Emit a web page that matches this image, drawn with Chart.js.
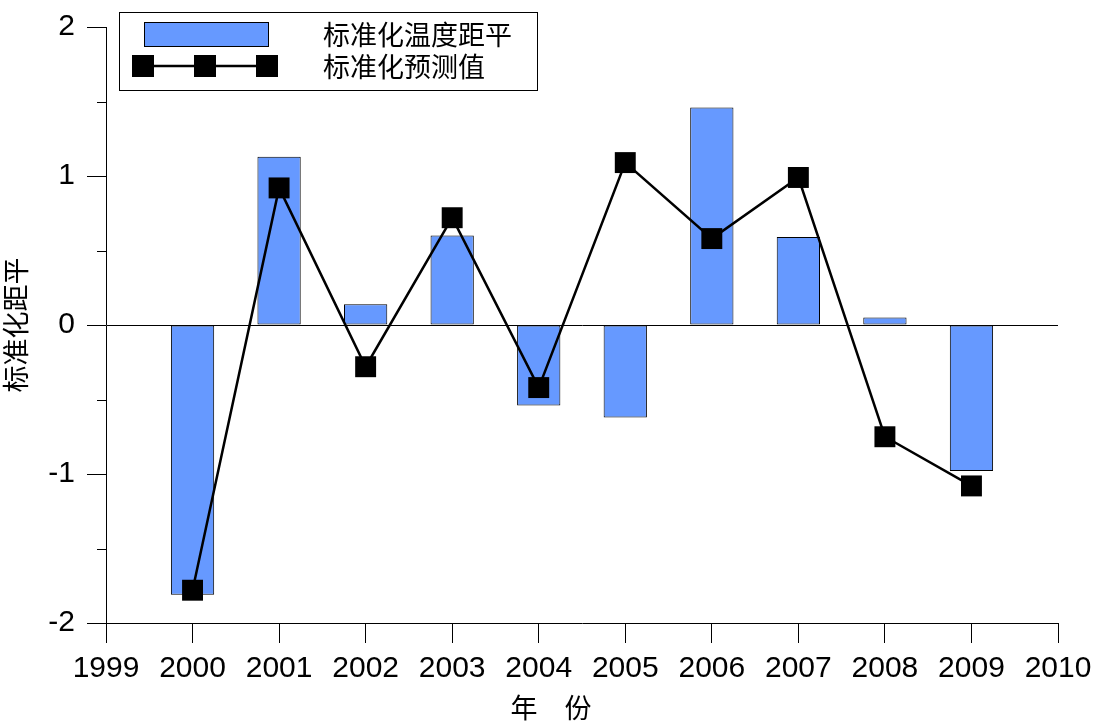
<!DOCTYPE html>
<html>
<head>
<meta charset="utf-8">
<script src="https://cdn.jsdelivr.net/npm/chart.js@4.4.0/dist/chart.umd.min.js"></script>
<style>
  html, body { margin: 0; padding: 0; background: #fff; }
  #wrap { width: 1096px; height: 723px; }
</style>
</head>
<body>
<div id="wrap"><canvas id="chart" width="1096" height="723"></canvas></div>
<script>
const years = [2000, 2001, 2002, 2003, 2004, 2005, 2006, 2007, 2008, 2009];
const anomaly = [-1.81, 1.13, 0.14, 0.60, -0.54, -0.62, 1.46, 0.59, 0.05, -0.98];
const predicted = [-1.78, 0.92, -0.28, 0.72, -0.42, 1.09, 0.58, 0.99, -0.75, -1.08];
const seriesNames = ['标准化温度距平', '标准化预测值'];
const xTitle = '年　份';
const yTitle = '标准化距平';
const minorTicks = [-1.5, -0.5, 0.5, 1.5];

const latin = "'Liberation Sans', Arial, sans-serif";
const cjk = "'Noto Sans CJK SC', sans-serif";
const barBlue = '#6699FF';

// legend box, minor ticks and the x title
const extras = {
    id: 'extras',
    afterDraw(chart) {
        const ctx = chart.ctx;
        const y = chart.scales.y;
        ctx.save();
        ctx.strokeStyle = '#000';
        ctx.lineWidth = 1;
        minorTicks.forEach(v => {
            const py = Math.round(y.getPixelForValue(v)) + 0.5;
            ctx.beginPath();
            ctx.moveTo(y.right - 9, py);
            ctx.lineTo(y.right, py);
            ctx.stroke();
        });

        // legend
        ctx.fillStyle = '#fff';
        ctx.fillRect(119.5, 12.5, 418, 78);
        ctx.strokeRect(119.5, 12.5, 418, 78);
        ctx.fillStyle = barBlue;
        ctx.fillRect(144.5, 22.5, 124, 24);
        ctx.strokeRect(144.5, 22.5, 124, 24);
        ctx.lineWidth = 2.5;
        ctx.beginPath();
        ctx.moveTo(143, 66);
        ctx.lineTo(267, 66);
        ctx.stroke();
        ctx.fillStyle = '#000';
        [143, 205, 267].forEach(cx => ctx.fillRect(cx - 11, 55, 22, 22));
        ctx.font = '27px ' + cjk;
        ctx.textBaseline = 'middle';
        ctx.textAlign = 'left';
        ctx.fillText(seriesNames[0], 323, 35);
        ctx.fillText(seriesNames[1], 323, 67);

        // x title
        ctx.textAlign = 'center';
        ctx.fillText(xTitle, 551, 708);
        ctx.restore();
    }
};

new Chart(document.getElementById('chart'), {
    type: 'bar',
    data: {
        datasets: [
            {
                type: 'line',
                label: seriesNames[1],
                data: years.map((x, i) => ({ x: x, y: predicted[i] })),
                borderColor: '#000',
                borderWidth: 2.5,
                pointStyle: 'rect',
                pointRadius: 14.8,
                pointBackgroundColor: '#000',
                pointBorderWidth: 0,
                tension: 0,
                order: 0
            },
            {
                label: seriesNames[0],
                data: years.map((x, i) => ({ x: x, y: anomaly[i] })),
                backgroundColor: barBlue,
                borderColor: '#000',
                borderWidth: 1,
                borderSkipped: false,
                barPercentage: 0.5,
                categoryPercentage: 1.0,
                order: 1
            }
        ]
    },
    options: {
        responsive: false,
        animation: false,
        layout: { padding: { left: 0, right: 38, top: 27, bottom: 0 } },
        plugins: {
            legend: { display: false },
            tooltip: { enabled: false }
        },
        scales: {
            x: {
                type: 'linear',
                min: 1999,
                max: 2010,
                offset: false,
                grid: {
                    offset: false,
                    drawOnChartArea: false,
                    tickLength: 20,
                    tickColor: '#000'
                },
                border: { display: true, color: '#000', width: 1 },
                ticks: {
                    stepSize: 1,
                    color: '#000',
                    font: { family: latin, size: 30 },
                    padding: 8,
                    maxRotation: 0,
                    autoSkip: false,
                    callback: v => String(v)
                },
                afterFit: s => { s.height = 100; s.paddingLeft = 0; s.paddingRight = 0; }
            },
            y: {
                min: -2,
                max: 2,
                grid: {
                    color: c => (c.tick && c.tick.value === 0) ? '#000' : 'rgba(0,0,0,0)',
                    tickLength: 19,
                    tickColor: '#000'
                },
                border: { display: true, color: '#000', width: 1 },
                ticks: {
                    stepSize: 1,
                    color: '#000',
                    font: { family: latin, size: 30 },
                    padding: 12
                },
                title: {
                    display: true,
                    text: yTitle,
                    color: '#000',
                    font: { family: cjk, size: 27 },
                    padding: { top: 0, bottom: 0 }
                },
                afterFit: s => { s.width = 106; s.paddingTop = 0; s.paddingBottom = 0; }
            }
        }
    },
    plugins: [extras]
});
</script>
</body>
</html>
